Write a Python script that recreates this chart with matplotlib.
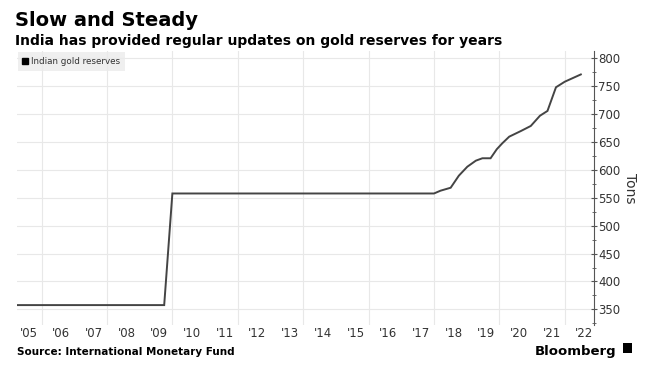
import matplotlib.pyplot as plt
from matplotlib.lines import Line2D
from matplotlib.patches import Rectangle

# India gold reserves (tons), x in decimal years
years = [2005.24, 2009.75, 2010.0, 2018.0, 2018.2, 2018.51, 2018.76, 2019.02, 2019.28,
         2019.48, 2019.73, 2019.92, 2020.09, 2020.3, 2020.66, 2020.96, 2021.24, 2021.47,
         2021.73, 2022.0, 2022.49]
tons = [357.7, 357.7, 557.7, 557.7, 562.7, 568.0, 589.6, 605.7, 616.5,
        620.8, 620.8, 637.0, 647.7, 659.5, 669.7, 678.7, 697.0, 705.6,
        748.0, 758.0, 771.0]

label_years = list(range(2005, 2023))
grid_years = list(range(2006, 2023, 2))
y_ticks = list(range(350, 801, 50))

fig = plt.figure(figsize=(6.5, 3.72), dpi=100)
ax = fig.add_axes([0.0257, 0.1263, 0.888, 0.7366])

ax.plot(years, tons, color='#444444', lw=1.4, solid_joinstyle='miter')

ax.set_xlim(2005.24, 2022.89)
ax.set_ylim(322, 813)

# gridlines at even year starts, labels in the middle of each year
ax.set_xticks(grid_years)
ax.set_xticklabels([])
ax.set_xticks([y + 0.6 for y in label_years], minor=True)
ax.set_xticklabels(["'" + str(y)[2:] for y in label_years], minor=True)
ax.tick_params(axis='x', which='both', length=0, colors='#333333', labelsize=8.5, pad=1.5)
ax.grid(axis='x', which='major', color='#e8e8e8', lw=0.8)

ax.yaxis.tick_right()
ax.set_yticks(y_ticks)
ax.set_yticks(list(range(325, 813, 25)), minor=True)
ax.tick_params(axis='y', which='major', direction='inout', length=4, width=0.8,
               color='#555555', labelcolor='#333333', labelsize=8.5, pad=1)
ax.tick_params(axis='y', which='minor', direction='inout', length=2.5, width=0.6, color='#555555')
ax.grid(axis='y', which='major', color='#e8e8e8', lw=0.8)
ax.set_axisbelow(True)

for s in ['left', 'top', 'bottom']:
    ax.spines[s].set_visible(False)
ax.spines['right'].set_color('#555555')
ax.spines['right'].set_linewidth(0.8)

ax.yaxis.set_label_position('right')
ax.set_ylabel('Tons', rotation=270, fontsize=10, color='#333333', labelpad=12)

handle = Line2D([], [], color='black', marker='s', ls='none', markersize=4.5)
leg = ax.legend([handle], ['Indian gold reserves'], loc='upper left', bbox_to_anchor=(0, 1.0),
                borderaxespad=0.1, fontsize=6.3, frameon=True, fancybox=False,
                handlelength=0.6, handletextpad=0.3, borderpad=0.6, labelcolor='#333333')
leg.get_frame().set_facecolor('#ebebeb')
leg.get_frame().set_edgecolor('none')

fig.text(0.023, 0.93, 'Slow and Steady', fontsize=14, fontweight='bold', color='black')
fig.text(0.023, 0.878, 'India has provided regular updates on gold reserves for years',
         fontsize=10, fontweight='bold', color='black')
fig.text(0.026, 0.047, 'Source: International Monetary Fund', fontsize=7.5,
         fontweight='bold', color='black')
fig.text(0.948, 0.047, 'Bloomberg', fontsize=9.5, fontweight='bold', color='black', ha='right')
fig.patches.append(Rectangle((0.958, 0.052), 0.014, 0.025, transform=fig.transFigure,
                             facecolor='black', edgecolor='none'))

fig.savefig('out.png', dpi=100, facecolor='white')
